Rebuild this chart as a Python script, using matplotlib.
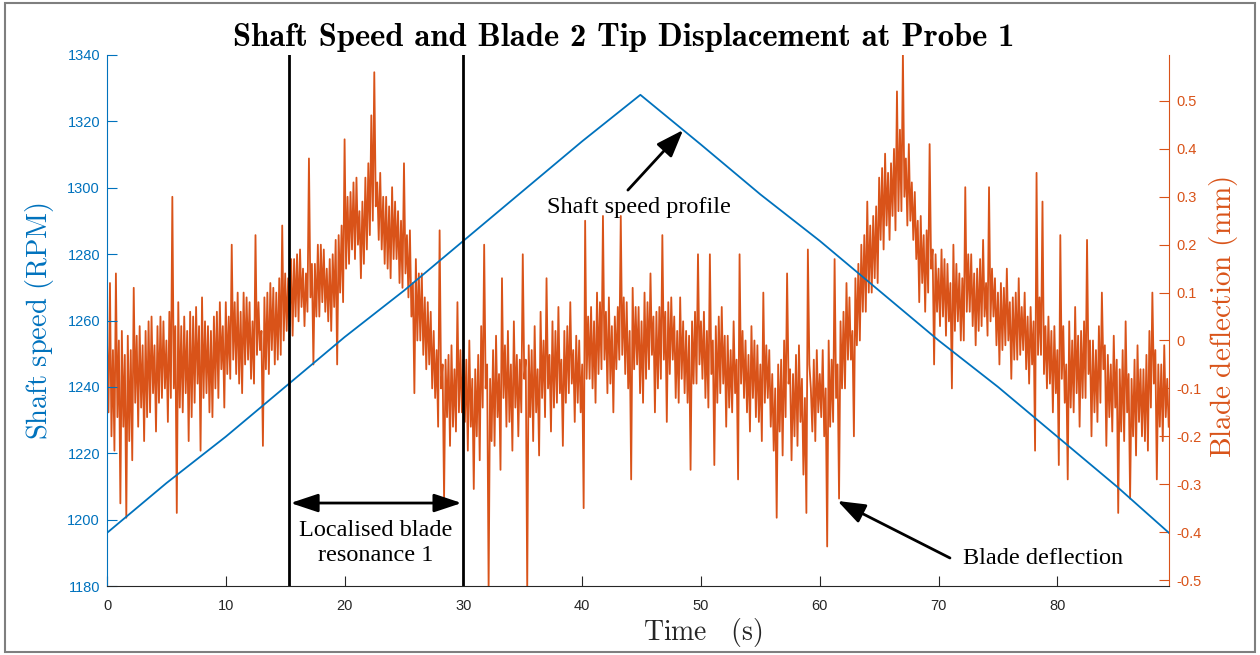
import numpy as np
import matplotlib
matplotlib.use('Agg')
from matplotlib import pyplot as plt
from matplotlib.patches import Rectangle

plt.rcParams['mathtext.fontset'] = 'cm'

BLUE = '#0072BD'
ORANGE = '#D95319'
GREY = '#262626'

# shaft speed profile (s, RPM)
speed_time = [0, 5, 10, 15, 20, 25, 30, 35, 40, 44.9, 50, 55, 60, 65, 70, 75, 80, 85, 89.4]
speed_rpm = [1196, 1211, 1225, 1240, 1255, 1269, 1284, 1299, 1314, 1328,
             1313, 1298, 1284, 1269, 1254, 1240, 1225, 1210, 1196]

# blade 2 tip deflection (mm), one value every 0.125 s, split into 10 s blocks
defl_00 = [0.00, -0.15, 0.12, -0.20, -0.02, -0.23, 0.14, -0.16, 0.00, -0.34,
           0.02, -0.18, -0.03, -0.37, 0.01, -0.21, -0.02, -0.25, 0.11, -0.13,
           0.01, -0.18, 0.03, -0.14, -0.01, -0.21, 0.02, -0.16, 0.04, -0.15,
           0.05, -0.11, -0.01, -0.19, 0.03, -0.13, 0.05, -0.12, 0.04, -0.10,
           0.00, -0.17, 0.06, -0.12, 0.30, -0.10, 0.03, -0.36, 0.08, -0.14,
           0.03, -0.15, 0.05, -0.11, 0.02, -0.21, 0.06, -0.16, 0.05, -0.13,
           0.07, -0.09, 0.03, -0.23, 0.09, -0.12, 0.04, -0.11, 0.03, -0.15,
           0.02, -0.16, 0.05, -0.10, 0.06, -0.12, 0.08, -0.06, 0.03, -0.14]
defl_10 = [0.08, -0.07, 0.05, -0.08, 0.20, -0.04, 0.08, -0.07, 0.10, -0.09,
           0.06, -0.11, 0.10, -0.05, 0.09, -0.04, 0.08, -0.08, 0.04, -0.09,
           0.22, -0.03, 0.08, -0.02, 0.02, -0.22, 0.09, -0.06, 0.10, -0.07,
           0.12, -0.02, 0.11, -0.05, 0.10, -0.04, 0.13, -0.03, 0.24, 0.00,
           0.14, 0.02, 0.13, 0.03, 0.17, 0.01, 0.17, 0.05, 0.18, 0.04,
           0.19, 0.07, 0.15, 0.03, 0.14, 0.06, 0.38, 0.09, 0.16, -0.05,
           0.16, 0.05, 0.20, 0.05, 0.20, 0.08, 0.19, 0.06, 0.15, 0.04,
           0.17, 0.02, 0.18, 0.07, 0.21, -0.05, 0.22, 0.10, 0.24, 0.08]
defl_20 = [0.42, 0.15, 0.30, 0.16, 0.31, 0.19, 0.33, 0.17, 0.34, 0.20,
           0.27, 0.13, 0.29, 0.16, 0.34, 0.19, 0.37, 0.22, 0.47, 0.25,
           0.56, 0.28, 0.33, 0.21, 0.35, 0.19, 0.30, 0.16, 0.30, 0.15,
           0.28, 0.13, 0.32, 0.17, 0.29, 0.17, 0.27, 0.12, 0.25, 0.11,
           0.37, 0.14, 0.22, 0.09, 0.23, 0.05, 0.12, -0.11, 0.17, 0.00,
           0.14, 0.00, 0.14, -0.03, 0.09, -0.06, 0.08, -0.05, 0.06, -0.10,
           0.02, -0.12, -0.02, -0.18, 0.23, -0.10, -0.05, -0.33, -0.04, -0.16,
           -0.03, -0.22, -0.01, -0.18, -0.06, -0.19, 0.08, -0.15, -0.02, -0.15]
defl_30 = [-0.04, -0.17, -0.04, -0.23, 0.00, -0.18, -0.08, -0.31, -0.06, -0.20,
           -0.03, -0.25, 0.03, -0.14, 0.20, -0.10, -0.05, -0.52, -0.08, -0.21,
           -0.02, -0.22, 0.01, -0.16, -0.07, -0.27, 0.13, -0.12, -0.01, -0.18,
           0.02, -0.17, -0.05, -0.23, 0.04, -0.14, -0.03, -0.20, -0.04, -0.15,
           0.18, -0.08, -0.04, -0.52, -0.01, -0.16, -0.02, -0.21, 0.03, -0.15,
           -0.06, -0.24, 0.06, -0.12, 0.00, -0.16, 0.13, -0.10, -0.03, -0.19,
           0.04, -0.14, 0.02, -0.13, 0.07, -0.11, -0.04, -0.22, 0.02, -0.13,
           0.03, -0.11, 0.08, -0.09, -0.02, -0.17, 0.01, -0.13, 0.00, -0.15]
defl_40 = [-0.05, -0.35, 0.25, -0.08, 0.05, -0.08, 0.07, -0.10, 0.04, -0.13,
           0.10, -0.07, 0.08, -0.06, 0.26, -0.04, 0.06, -0.11, 0.09, -0.09,
           0.03, -0.15, 0.05, -0.06, 0.07, -0.04, 0.26, -0.03, 0.09, -0.07,
           0.08, -0.10, 0.02, -0.29, 0.11, -0.06, 0.07, -0.05, 0.07, -0.11,
           0.04, -0.13, 0.10, -0.08, 0.08, -0.06, 0.14, -0.03, 0.05, -0.15,
           0.06, -0.10, 0.07, -0.08, 0.22, -0.04, 0.06, -0.17, 0.08, -0.07,
           0.09, -0.04, 0.05, -0.12, 0.02, -0.13, 0.09, -0.08, 0.04, -0.11,
           0.02, -0.13, 0.01, -0.27, 0.04, -0.09, 0.06, -0.09, 0.18, -0.05]
defl_50 = [0.04, -0.08, 0.06, -0.12, 0.02, -0.14, 0.18, -0.07, 0.00, -0.26,
           0.03, -0.13, 0.05, -0.11, 0.07, -0.09, 0.01, -0.18, 0.01, -0.14,
           -0.02, -0.15, 0.04, -0.11, -0.04, -0.29, 0.18, -0.09, 0.02, -0.12,
           0.00, -0.15, -0.03, -0.19, 0.03, -0.12, 0.00, -0.16, -0.01, -0.17,
           -0.05, -0.21, 0.10, -0.13, -0.01, -0.12, -0.02, -0.18, -0.07, -0.23,
           -0.10, -0.37, -0.05, -0.19, -0.04, -0.24, 0.00, -0.16, 0.14, -0.09,
           -0.06, -0.25, -0.07, -0.20, -0.03, -0.22, -0.01, -0.17, -0.08, -0.28,
           -0.12, -0.36, 0.19, -0.05, -0.10, -0.19, -0.04, -0.21, -0.02, -0.15]
defl_60 = [-0.07, -0.16, -0.02, -0.20, -0.10, -0.43, 0.00, -0.18, -0.04, -0.17,
           0.17, -0.12, -0.05, -0.33, 0.04, -0.10, 0.06, -0.10, 0.12, -0.04,
           0.09, -0.04, 0.02, -0.20, 0.13, -0.01, 0.16, 0.00, 0.20, 0.06,
           0.22, 0.06, 0.29, 0.10, 0.24, 0.10, 0.26, 0.13, 0.28, 0.12,
           0.34, 0.21, 0.36, 0.19, 0.39, 0.24, 0.35, 0.21, 0.37, 0.26,
           0.40, 0.23, 0.52, 0.27, 0.44, 0.27, 0.60, 0.30, 0.38, 0.24,
           0.41, 0.25, 0.33, 0.21, 0.31, 0.17, 0.25, 0.08, 0.26, 0.12,
           0.22, 0.06, 0.23, 0.10, 0.41, 0.15, 0.19, -0.05, 0.18, 0.06]
defl_70 = [0.15, 0.03, 0.19, 0.05, 0.17, 0.01, 0.16, 0.04, 0.12, -0.10,
           0.20, 0.02, 0.16, 0.04, 0.14, 0.00, 0.13, 0.00, 0.32, 0.06,
           0.18, 0.06, 0.18, 0.03, 0.14, -0.01, 0.15, 0.02, 0.17, 0.03,
           0.21, 0.05, 0.12, 0.01, 0.32, 0.04, 0.15, 0.05, 0.13, -0.01,
           0.10, -0.05, 0.12, -0.02, 0.11, -0.01, 0.15, 0.00, 0.08, -0.08,
           0.09, -0.04, 0.10, -0.04, 0.13, -0.03, 0.07, -0.02, 0.10, -0.06,
           0.05, -0.09, 0.07, -0.05, 0.04, -0.23, 0.35, -0.03, 0.09, -0.03,
           0.29, -0.07, 0.03, -0.10, 0.05, -0.09, 0.02, -0.15, 0.03, -0.11]
defl_80 = [-0.02, -0.26, 0.22, -0.08, 0.03, -0.13, -0.05, -0.29, 0.04, -0.14,
           0.00, -0.15, 0.07, -0.11, 0.01, -0.18, 0.02, -0.12, 0.04, -0.12,
           0.21, -0.07, 0.00, -0.20, 0.00, -0.15, -0.02, -0.17, 0.03, -0.13,
           0.10, -0.06, -0.01, -0.22, -0.03, -0.16, -0.05, -0.19, 0.01, -0.14,
           -0.04, -0.36, -0.06, -0.19, -0.02, -0.21, 0.04, -0.15, -0.07, -0.33,
           -0.08, -0.20, -0.04, -0.24, -0.01, -0.17, -0.06, -0.20, -0.06, -0.21,
           -0.03, -0.23, 0.02, -0.14, 0.10, -0.09, -0.02, -0.29, -0.05, -0.18,
           -0.05, -0.21, -0.01, -0.16, -0.08, -0.18]

deflection = defl_00 + defl_10 + defl_20 + defl_30 + defl_40 + defl_50 + defl_60 + defl_70 + defl_80
defl_time = np.arange(len(deflection)) * 0.125

speed_ticks = [1180, 1200, 1220, 1240, 1260, 1280, 1300, 1320, 1340]
defl_ticks = [-0.5, -0.4, -0.3, -0.2, -0.1, 0, 0.1, 0.2, 0.3, 0.4, 0.5]
defl_labels = ['-0.5', '-0.4', '-0.3', '-0.2', '-0.1', '0', '0.1', '0.2', '0.3', '0.4', '0.5']
time_ticks = [0, 10, 20, 30, 40, 50, 60, 70, 80]

fig = plt.figure(figsize=(12.6, 6.55), dpi=100)
fig.patches.append(Rectangle((5 / 1260, 3 / 655), 1250 / 1260, 649 / 655, transform=fig.transFigure,
                             fill=False, edgecolor='#7f7f7f', lw=1.5))

ax = fig.add_axes([107 / 1260, 1 - 586 / 655, 1062 / 1260, 531 / 655])
ax2 = ax.twinx()

ax2.plot(defl_time, deflection, color=ORANGE, lw=1.3)
ax.plot(speed_time, speed_rpm, color=BLUE, lw=1.3)

ax.set_zorder(ax2.get_zorder() + 1)
ax.patch.set_visible(False)

ax.set_xlim(0, 89.4)
ax.set_ylim(1180, 1340)
ax2.set_ylim(-0.5125, 0.596)

ax.set_xticks(time_ticks)
ax.set_yticks(speed_ticks)
ax2.set_yticks(defl_ticks)
ax2.set_yticklabels(defl_labels)

for a in (ax, ax2):
    a.spines['top'].set_visible(False)
ax.spines['right'].set_visible(False)
ax2.spines['left'].set_visible(False)
ax2.spines['bottom'].set_visible(False)
ax.spines['left'].set_color(BLUE)
ax.spines['bottom'].set_color(GREY)
ax2.spines['right'].set_color(ORANGE)

ax.tick_params(axis='x', direction='in', length=7, colors=GREY, labelsize=10.5, pad=9,
               labelfontfamily='Liberation Sans')
ax.tick_params(axis='y', direction='in', length=7, colors=BLUE, labelsize=10.5, pad=5,
               labelfontfamily='Liberation Sans')
ax2.tick_params(axis='y', direction='in', length=7, colors=ORANGE, labelsize=10.5, pad=5,
                labelfontfamily='Liberation Sans')

head = '-|>,head_length=0.6,head_width=0.22'
# resonance window
for t in (15.3, 30.0):
    ax.axvline(t, color='k', lw=2)
ax.annotate('', xy=(15.45, 1205), xytext=(29.85, 1205),
            arrowprops=dict(arrowstyle='<|-|>,head_length=0.6,head_width=0.2', color='k', lw=2,
                            mutation_scale=28, shrinkA=0, shrinkB=0))
ax.text(22.65, 1193, 'Localised blade\nresonance 1', ha='center', va='center',
        family='Liberation Serif', fontsize=17.5, linespacing=1.25)

ax.text(44.8, 1294, 'Shaft speed profile', ha='center', va='center',
        family='Liberation Serif', fontsize=17.5)
ax.annotate('', xy=(48.5, 1317.4), xytext=(43.85, 1299.3),
            arrowprops=dict(arrowstyle=head, color='k', lw=2, mutation_scale=28, shrinkA=0, shrinkB=0))
ax2.text(78.8, -0.456, 'Blade deflection', ha='center', va='center',
         family='Liberation Serif', fontsize=17.5)
ax2.annotate('', xy=(61.5, -0.335), xytext=(70.96, -0.454),
             arrowprops=dict(arrowstyle=head, color='k', lw=2, mutation_scale=28, shrinkA=0, shrinkB=0))

fig.text(624 / 1260, 1 - 46 / 655, 'Shaft Speed and Blade 2 Tip Displacement at Probe 1',
         ha='center', va='baseline', fontsize=23.5, family='cmb10')
fig.text(703 / 1260, 1 - 640 / 655, r'$\mathrm{Time}\quad\mathrm{(s)}$',
         ha='center', va='baseline', fontsize=20, color=GREY)
fig.text(40 / 1260, 1 - 321 / 655, r'$\mathrm{Shaft\ speed\ (RPM)}$', rotation=90,
         ha='center', va='center', fontsize=20.5, color=BLUE)
fig.text(1224 / 1260, 1 - 317 / 655, r'$\mathrm{Blade\ deflection\ (mm)}$', rotation=90,
         ha='center', va='center', fontsize=21, color=ORANGE)

fig.savefig('out.png', dpi=100)
